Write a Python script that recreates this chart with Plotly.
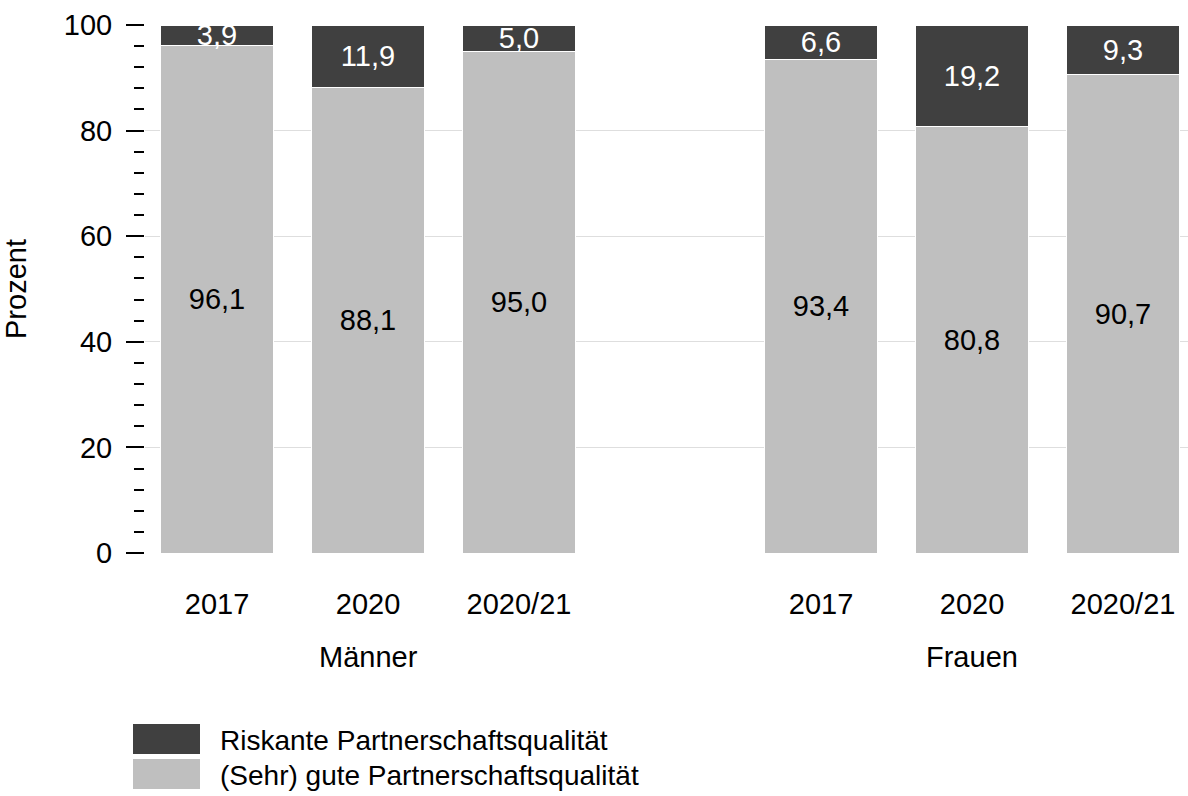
import plotly.graph_objects as go

groups = ["Männer", "Frauen"]
years = ["2017", "2020", "2020/21"]
gut = [96.1, 88.1, 95.0, 93.4, 80.8, 90.7]
riskant = [3.9, 11.9, 5.0, 6.6, 19.2, 9.3]
series_names = ["Riskante Partnerschaftsqualität", "(Sehr) gute Partnerschaftsqualität"]
series_colors = ["#404040", "#bfbfbf"]
y_ticks = [0, 20, 40, 60, 80, 100]

FONT = "Liberation Sans, Arial, sans-serif"
FS = 29
FS_LEG = 28

# x positions: groups separated by an empty slot
xpos = []
xlabels = []
for gi, g in enumerate(groups):
    for yi, yr in enumerate(years):
        xpos.append(gi * (len(years) + 1) + yi)
        xlabels.append(yr)

def fmt(v):
    return f"{v:.1f}".replace(".", ",")

fig = go.Figure()
fig.add_trace(go.Bar(
    x=xpos, y=gut, name=series_names[1],
    marker=dict(color=series_colors[1], line=dict(color="white", width=1)),
    width=0.742,
    text=[fmt(v) for v in gut], textposition="inside", insidetextanchor="middle",
    textangle=0, constraintext="none",
    textfont=dict(color="black", size=FS, family=FONT),
    showlegend=False, hoverinfo="skip",
))
fig.add_trace(go.Bar(
    x=xpos, y=riskant, name=series_names[0],
    marker=dict(color=series_colors[0], line=dict(color="white", width=1)),
    width=0.742,
    text=[fmt(v) for v in riskant], textposition="inside", insidetextanchor="middle",
    textangle=0, constraintext="none",
    textfont=dict(color="white", size=FS, family=FONT),
    showlegend=False, hoverinfo="skip",
))

W, H = 1188, 796
ml, mr, mt, mb = 145, 0, 25, 243
plot_w = W - ml - mr
plot_h = H - mt - mb
px_per_unit = 151.0
x0 = (145 - 217) / px_per_unit
x1 = x0 + plot_w / px_per_unit

annotations = []
for gi, g in enumerate(groups):
    annotations.append(dict(
        x=gi * (len(years) + 1) + (len(years) - 1) / 2, xref="x",
        y=-(657 - 553) / plot_h, yref="paper",
        text=g, showarrow=False, xanchor="center", yanchor="middle",
        font=dict(size=FS, family=FONT, color="black"),
    ))

# legend (manual, large swatches)
shapes = []
leg_rows = [740, 775]
for i, (nm, col) in enumerate(zip(series_names, series_colors)):
    cy = leg_rows[i]
    top = (553 - (cy - 16)) / plot_h
    bot = (553 - (cy + 14)) / plot_h
    shapes.append(dict(
        type="rect", xref="paper", yref="paper",
        x0=(133 - ml) / plot_w, x1=(200 - ml) / plot_w,
        y0=bot, y1=top, fillcolor=col, line=dict(width=0),
    ))
    annotations.append(dict(
        x=(218 - ml) / plot_w, xref="paper",
        y=(553 - cy) / plot_h, yref="paper",
        text=nm, showarrow=False, xanchor="left", yanchor="middle",
        font=dict(size=FS_LEG, family=FONT, color="black"),
    ))

fig.update_layout(
    width=W, height=H,
    margin=dict(l=ml, r=mr, t=mt, b=mb, pad=0),
    barmode="stack",
    plot_bgcolor="white", paper_bgcolor="white",
    font=dict(family=FONT, size=FS, color="black"),
    showlegend=False,
    annotations=annotations,
    shapes=shapes,
    xaxis=dict(
        range=[x0, x1], tickvals=xpos, ticktext=xlabels,
        showgrid=False, zeroline=False, showline=False, ticks="",
        ticklabelstandoff=31,
        tickfont=dict(size=FS, family=FONT, color="black"),
    ),
    yaxis=dict(
        range=[0, 100], tickvals=y_ticks,
        showgrid=True, gridcolor="#dedede", gridwidth=1,
        zeroline=False, showline=False,
        ticks="outside", ticklen=18, tickwidth=2, tickcolor="black",
        ticklabelstandoff=8,
        minor=dict(dtick=4, ticks="outside", ticklen=10, tickwidth=2, tickcolor="black", showgrid=False),
        tickfont=dict(size=FS, family=FONT, color="black"),
        title=dict(text="Prozent", standoff=28, font=dict(size=FS, family=FONT, color="black")),
    ),
)

fig.write_html(
    "out.html",
    config={"displayModeBar": False, "staticPlot": True},
    post_script="document.body.style.margin='0px';document.body.style.overflow='hidden';",
)
